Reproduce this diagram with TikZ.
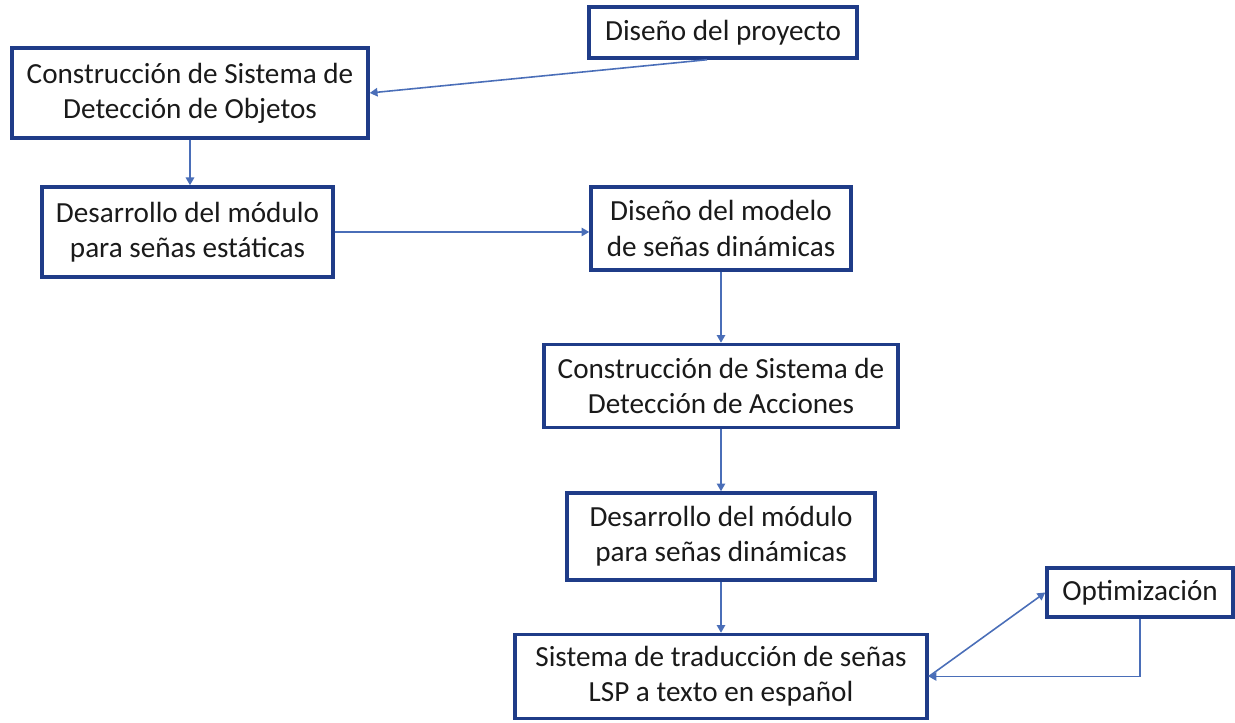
\documentclass[tikz,border=0pt]{standalone}
\usepackage{fontspec}
\setmainfont{Carlito}
\usepackage{tikz}
\usetikzlibrary{arrows.meta,positioning}
\definecolor{PlanBlue}{HTML}{1F3C88}
\definecolor{PlanArrow}{HTML}{4A6EB8}
\definecolor{PlanText}{HTML}{1A1A1A}

\begin{document}
\begin{tikzpicture}[node distance=0.6cm]
    \tikzset{stagebox/.style={draw=PlanBlue,line width=1pt,fill=white,inner sep=1pt,align=center,text=PlanText,font=\fontsize{8.3}{10}\selectfont},
      flowarrow/.style={draw=PlanArrow,line width=0.45pt,-{Triangle[length=2.2pt,width=2.4pt]}}}
    \useasboundingbox (0,0) rectangle (12.35,7.23);
    \node[stagebox,minimum width=2.68cm,minimum height=0.51cm] (proyecto) at (7.23,6.905) {Diseño del proyecto};
    \node[stagebox,minimum width=3.56cm,minimum height=0.90cm] (objetos) at (1.90,6.30) {Construcción de Sistema de\\Detección de Objetos};
    \node[stagebox,minimum width=2.91cm,minimum height=0.90cm] (estaticas) at (1.875,4.91) {Desarrollo del módulo\\para señas estáticas};
    \node[stagebox,minimum width=2.60cm,minimum height=0.83cm] (modelo) at (7.21,4.945) {Diseño del modelo\\de señas dinámicas};
    \node[stagebox,minimum width=3.54cm,minimum height=0.83cm,below=0.71cm of modelo] (acciones) {Construcción de Sistema de\\Detección de Acciones};
    \node[stagebox,minimum width=3.08cm,minimum height=0.87cm,below=0.62cm of acciones] (dinamicas) {Desarrollo del módulo\\para señas dinámicas};
    \node[stagebox,minimum width=4.12cm,minimum height=0.84cm,below=0.51cm of dinamicas] (traduccion) {Sistema de traducción de señas\\LSP a texto en español};
    \node[stagebox,minimum width=1.86cm,minimum height=0.49cm] (optim) at (11.40,1.305) {Optimización};
    % connectors
    \draw[flowarrow] ([xshift=-1.6mm]proyecto.south) -- (objetos.east);
    \draw[flowarrow] (objetos.south) -- (objetos.south |- estaticas.north);
    \draw[flowarrow] (estaticas.east) -- (estaticas.east -| modelo.west);
    \draw[flowarrow] (modelo.south) -- (acciones.north);
    \draw[flowarrow] (acciones.south) -- (dinamicas.north);
    \draw[flowarrow] (dinamicas.south) -- (traduccion.north);
    \draw[flowarrow] (traduccion.east) -- (optim.west);
    \draw[flowarrow] (optim.south) |- (traduccion.east);
  \end{tikzpicture}
\end{document}
